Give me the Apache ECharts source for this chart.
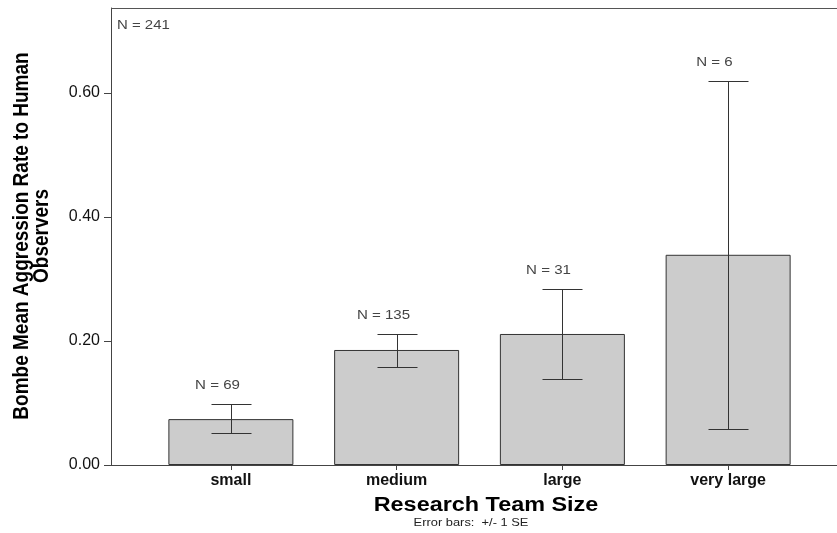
<!DOCTYPE html>
<html>
<head>
<meta charset="utf-8">
<script src="https://cdn.jsdelivr.net/npm/echarts@6/dist/echarts.min.js"></script>
<style>
html,body{margin:0;padding:0;background:#fff;}
#chart{width:837px;height:533px;}
</style>
</head>
<body>
<div id="chart"></div>
<script>
const categories = ['small', 'medium', 'large', 'very large'];
const means = [0.074, 0.1855, 0.2113, 0.339];
const seLow = [0.0516, 0.158, 0.1382, 0.0576];
const seHigh = [0.0979, 0.2113, 0.2844, 0.620];
const counts = [69, 135, 31, 6];
const totalN = 241;
const yTicks = [0, 0.2, 0.4, 0.6];

const FONT = '"Liberation Sans", Arial, sans-serif';
const chart = echarts.init(document.getElementById('chart'));

const errData = categories.map((c, i) => [i, seLow[i], seHigh[i], counts[i]]);

chart.setOption({
  animation: false,
  backgroundColor: '#ffffff',
  grid: { left: 148, right: 26, top: 8, bottom: 68 },
  xAxis: {
    type: 'category',
    data: categories,
    boundaryGap: true,
    axisLine: { show: false },
    axisTick: { show: true, alignWithLabel: true, length: 5, lineStyle: { color: '#444' } },
    axisLabel: { margin: 8, fontFamily: FONT, fontSize: 16, fontWeight: 'bold', color: '#111' }
  },
  yAxis: {
    type: 'value',
    min: 0,
    max: 0.737,
    interval: 0.2,
    offset: 37,
    splitLine: { show: false },
    axisLine: { show: true, lineStyle: { color: '#444', width: 1 } },
    axisTick: { show: true, length: 7, customValues: yTicks, lineStyle: { color: '#444' } },
    axisLabel: {
      customValues: yTicks,
      margin: 11,
      fontFamily: FONT,
      fontSize: 16,
      color: '#111',
      formatter: v => v.toFixed(2)
    }
  },
  graphic: [
    { type: 'line', shape: { x1: 111, y1: 8.5, x2: 837, y2: 8.5 }, style: { stroke: '#555', lineWidth: 1 }, z: 10 },
    { type: 'line', shape: { x1: 111, y1: 465.5, x2: 837, y2: 465.5 }, style: { stroke: '#444', lineWidth: 1 }, z: 10 },
    { type: 'text', x: 117, y: 25, scaleX: 1.15,
      style: { text: 'N = ' + totalN, font: '13px ' + FONT, fill: '#444', textAlign: 'left', textVerticalAlign: 'middle' } },
    { type: 'text', x: 32, y: 236, rotation: Math.PI / 2, scaleY: 1.12,
      style: { text: 'Bombe Mean Aggression Rate to Human\nObservers', font: 'bold 19px ' + FONT, lineHeight: 18,
               fill: '#000', textAlign: 'center', textVerticalAlign: 'middle' } },
    { type: 'text', x: 486, y: 505, scaleX: 1.17,
      style: { text: 'Research Team Size', font: 'bold 20px ' + FONT, fill: '#000', textAlign: 'center', textVerticalAlign: 'middle' } },
    { type: 'text', x: 471, y: 523, scaleX: 1.17,
      style: { text: 'Error bars:  +/- 1 SE', font: '11px ' + FONT, fill: '#222', textAlign: 'center', textVerticalAlign: 'middle' } }
  ],
  series: [
    {
      type: 'bar',
      data: means,
      barWidth: 125,
      itemStyle: { color: '#cccccc', borderColor: '#333', borderWidth: 1 },
      z: 2
    },
    {
      type: 'custom',
      data: errData,
      z: 5,
      renderItem: function (params, api) {
        const i = api.value(0);
        const pHi = api.coord([i, api.value(2)]);
        const pLo = api.coord([i, api.value(1)]);
        const x = Math.round(pHi[0]) + 0.5;
        const yHi = Math.round(pHi[1]) + 0.5;
        const yLo = Math.round(pLo[1]) + 0.5;
        const hw = 20;
        const st = { stroke: '#333', lineWidth: 1 };
        return {
          type: 'group',
          children: [
            { type: 'line', shape: { x1: x, y1: yHi, x2: x, y2: yLo }, style: st },
            { type: 'line', shape: { x1: x - hw, y1: yHi, x2: x + hw, y2: yHi }, style: st },
            { type: 'line', shape: { x1: x - hw, y1: yLo, x2: x + hw, y2: yLo }, style: st },
            { type: 'text', x: x - 14, y: yHi - 19, scaleX: 1.16,
              style: { text: 'N = ' + api.value(3), font: '13px ' + FONT, fill: '#444', textAlign: 'center', textVerticalAlign: 'middle' } }
          ]
        };
      }
    }
  ]
});
</script>
</body>
</html>
